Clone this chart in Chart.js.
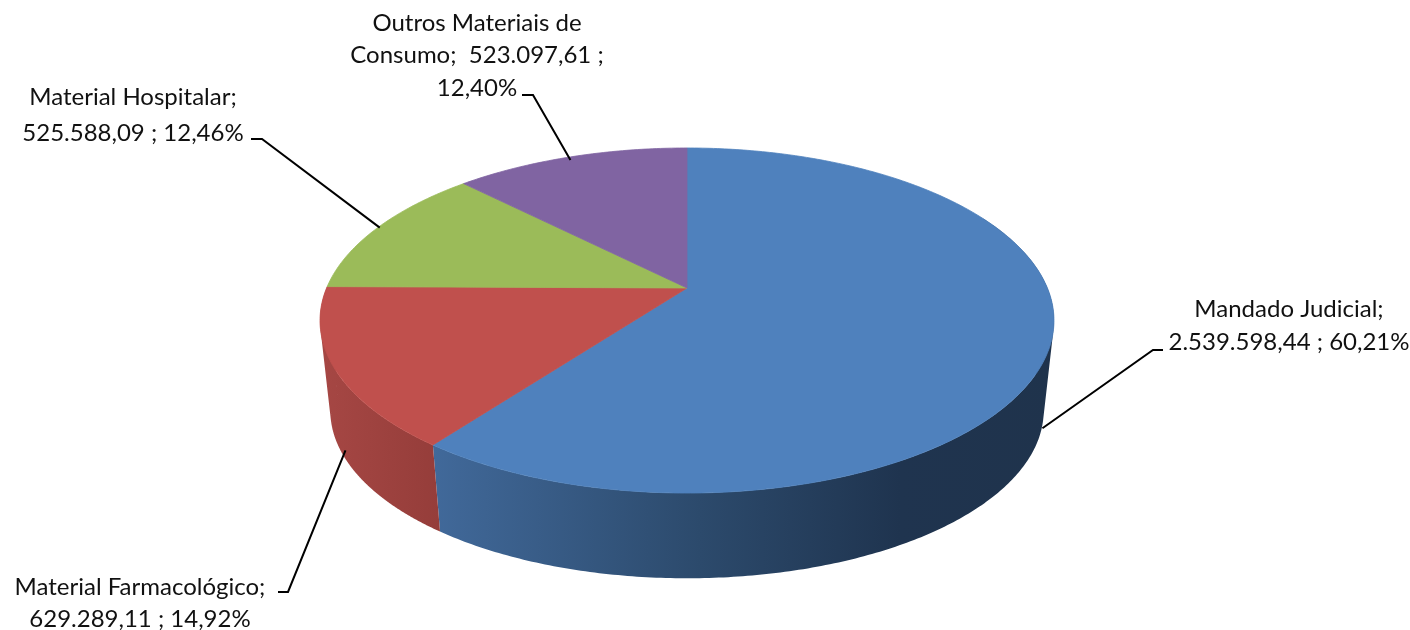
<!DOCTYPE html>
<html lang="pt">
<head>
<meta charset="utf-8">
<style>html,body{margin:0;padding:0;background:#fff}canvas{display:block}</style>
<script src="https://cdn.jsdelivr.net/npm/chart.js@4"></script>
</head>
<body>
<canvas id="c" width="1410" height="630"></canvas>
<script>
const categories = ['Mandado Judicial','Material Farmacológico','Material Hospitalar','Outros Materiais de Consumo'];
const seriesValues = [2539598.44, 629289.11, 525588.09, 523097.61];
const sliceColors = ['#4F81BD','#C0504D','#9BBB59','#8064A2'];
const labelLines = [
  ['Mandado Judicial;','2.539.598,44 ; 60,21%'],
  ['Material Farmacológico;','629.289,11 ; 14,92%'],
  ['Material Hospitalar;','525.588,09 ; 12,46%'],
  ['Outros Materiais de','Consumo;  523.097,61 ;','12,40%']
];

// Perspective used by the 3D look (projection of the unit disc on the page).
const view = {cx:687, cy:288, c:360.4, a:166.4, k:-0.1884, baseY:379, baseScale:0.972};
const labelLayout = [
  {x:1289, y:[309,342], elbow:[[1163,350],[1153,350]], nudge:[2,-5], wall:true},
  {x:140,  y:[587,619], elbow:[[278,592],[288,592]],  nudge:[1,-7], wall:true},
  {x:133,  y:[97,133],  elbow:[[251,139],[262,139]],  nudge:[2,0],  wall:false},
  {x:477,  y:[23,55,88],elbow:[[522,95],[533,95]],    nudge:[0,3],  wall:false}
];
const wallStops = [
  [[320,'#a64744'],[440,'#953d3a']],
  [[433,'#41699a'],[700,'#2c4a6c'],[900,'#1f344f'],[1054,'#1f334c']]
];

function topPt(t){
  const u=Math.sin(t), v=-Math.cos(t), d=1+view.k*v;
  return [view.cx+view.c*u/d, view.cy+view.a*v/d];
}
function basePt(t){
  const u=Math.sin(t), v=-Math.cos(t), d=1+view.k*v, s=view.baseScale;
  return [view.cx+s*view.c*u/d, view.baseY+s*view.a*v/d];
}
function wallGradient(ctx,stops){
  const x0=stops[0][0], x1=stops[stops.length-1][0];
  const g=ctx.createLinearGradient(x0,0,x1,0);
  stops.forEach(s=>g.addColorStop((s[0]-x0)/(x1-x0),s[1]));
  return g;
}
function drawWall(ctx,t0,t1,fill){
  const n=240; ctx.beginPath();
  for(let i=0;i<n;i++){
    const a=t0+(t1-t0)*i/n, b=t0+(t1-t0)*(i+1)/n;
    let quad=[topPt(a),topPt(b),basePt(b),basePt(a)];
    let area=0;
    quad.forEach((p,j)=>{const q=quad[(j+1)%4]; area+=p[0]*q[1]-q[0]*p[1];});
    if(area<0) quad=quad.reverse();      // same winding everywhere, so the union is filled
    ctx.moveTo(quad[0][0],quad[0][1]);
    quad.slice(1).forEach(p=>ctx.lineTo(p[0],p[1]));
    ctx.closePath();
  }
  ctx.fillStyle=fill; ctx.fill('nonzero');
}
const pie3d = {
  id:'pie3d',
  beforeDatasetDraw(chart,args){
    const ctx=chart.ctx, arcs=chart.getDatasetMeta(args.index).data;
    const th=a=>a+Math.PI/2;           // library angle -> clockwise from the top
    ctx.save();
    // side walls: blue slice and red slice are the ones facing the viewer
    const b1=th(arcs[0].endAngle), r1=th(arcs[1].endAngle);
    drawWall(ctx,Math.PI*0.35,b1,wallGradient(ctx,wallStops[1]));
    drawWall(ctx,b1,Math.min(r1,Math.PI*1.6),wallGradient(ctx,wallStops[0]));
    // top faces
    arcs.forEach(arc=>{
      const t0=th(arc.startAngle), t1=th(arc.endAngle), n=Math.max(20,Math.round((t1-t0)*80));
      ctx.beginPath(); ctx.moveTo(view.cx,view.cy);
      for(let i=0;i<=n;i++){const p=topPt(t0+(t1-t0)*i/n); ctx.lineTo(p[0],p[1]);}
      ctx.closePath(); ctx.fillStyle=arc.options.backgroundColor; ctx.fill();
      ctx.strokeStyle=arc.options.backgroundColor; ctx.lineWidth=0.8; ctx.stroke();
    });
    // leader lines and labels
    ctx.strokeStyle='#000'; ctx.lineWidth=2; ctx.lineJoin='miter';
    arcs.forEach((arc,i)=>{
      const L=labelLayout[i], mid=th((arc.startAngle+arc.endAngle)/2);
      const p=L.wall?basePt(mid):topPt(mid);
      ctx.beginPath(); ctx.moveTo(L.elbow[0][0],L.elbow[0][1]); ctx.lineTo(L.elbow[1][0],L.elbow[1][1]);
      ctx.lineTo(p[0]+L.nudge[0],p[1]+L.nudge[1]); ctx.stroke();
    });
    ctx.fillStyle='#111'; ctx.textAlign='center'; ctx.textBaseline='middle';
    ctx.font='24px Lato, "Open Sans", sans-serif';
    labelLines.forEach((lines,i)=>lines.forEach((t,j)=>ctx.fillText(t,labelLayout[i].x,labelLayout[i].y[j])));
    ctx.restore();
    return false;
  }
};
new Chart(document.getElementById('c'),{
  type:'pie',
  data:{labels:categories,datasets:[{data:seriesValues,backgroundColor:sliceColors,borderWidth:0}]},
  options:{responsive:false,animation:false,
    plugins:{legend:{display:false},tooltip:{enabled:false}},events:[]},
  plugins:[pie3d]
});
</script>
</body>
</html>
